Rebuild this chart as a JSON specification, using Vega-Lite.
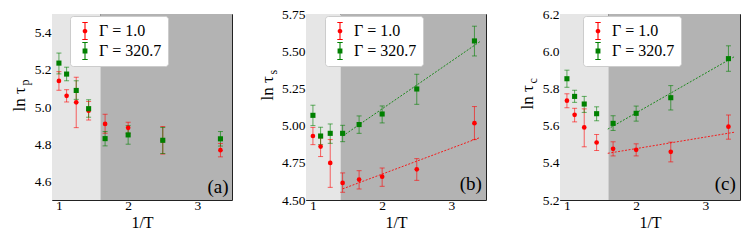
{
  "$schema": "https://vega.github.io/schema/vega-lite/v6.json",
  "padding": {"left": 9, "top": 6, "right": 0, "bottom": 0},
  "spacing": 74,
  "bounds": "flush",
  "resolve": {"legend": {"color": "independent", "shape": "independent"}},
  "config": {
    "font": "Liberation Serif",
    "view": {"stroke": "#222222", "strokeWidth": 1},
    "axis": {"labelFont": "Liberation Serif", "labelFontSize": 13.5, "labelColor": "#000000", "titleFont": "Liberation Serif", "titleFontSize": 17, "titleFontWeight": "normal", "titleColor": "#000000", "domain": false, "grid": false, "tickColor": "#222222", "tickWidth": 1, "labelFlush": false, "labelOverlap": false},
    "legend": {"labelFont": "Liberation Serif", "labelFontSize": 16, "labelColor": "#000000", "fillColor": "#ffffff", "strokeColor": "#cccccc", "cornerRadius": 3, "padding": 6, "rowPadding": 2, "symbolSize": 324, "labelOffset": 5}
  },
  "datasets": {
    "bg": [
      {"p": "a", "x0": 0.9, "x1": 1.6, "shade": "light"},
      {"p": "a", "x0": 1.6, "x1": 3.5, "shade": "dark"},
      {"p": "b", "x0": 0.9, "x1": 1.4, "shade": "light"},
      {"p": "b", "x0": 1.4, "x1": 3.5, "shade": "dark"},
      {"p": "c", "x0": 0.9, "x1": 1.6, "shade": "light"},
      {"p": "c", "x0": 1.6, "x1": 3.5, "shade": "dark"}
    ],
    "pts": [
      {"p": "a", "s": "Γ = 1.0", "x": 1.0, "y": 5.14, "lo": 5.09, "hi": 5.19},
      {"p": "a", "s": "Γ = 1.0", "x": 1.111, "y": 5.06, "lo": 5.027, "hi": 5.093},
      {"p": "a", "s": "Γ = 1.0", "x": 1.25, "y": 5.025, "lo": 4.889, "hi": 5.16},
      {"p": "a", "s": "Γ = 1.0", "x": 1.429, "y": 4.98, "lo": 4.93, "hi": 5.03},
      {"p": "a", "s": "Γ = 1.0", "x": 1.667, "y": 4.909, "lo": 4.859, "hi": 4.961},
      {"p": "a", "s": "Γ = 1.0", "x": 2.0, "y": 4.888, "lo": 4.858, "hi": 4.918},
      {"p": "a", "s": "Γ = 1.0", "x": 2.5, "y": 4.82, "lo": 4.747, "hi": 4.895},
      {"p": "a", "s": "Γ = 1.0", "x": 3.333, "y": 4.768, "lo": 4.732, "hi": 4.804},
      {"p": "a", "s": "Γ = 320.7", "x": 1.0, "y": 5.236, "lo": 5.178, "hi": 5.29},
      {"p": "a", "s": "Γ = 320.7", "x": 1.111, "y": 5.177, "lo": 5.141, "hi": 5.214},
      {"p": "a", "s": "Γ = 320.7", "x": 1.25, "y": 5.089, "lo": 5.041, "hi": 5.141},
      {"p": "a", "s": "Γ = 320.7", "x": 1.429, "y": 4.991, "lo": 4.945, "hi": 5.039},
      {"p": "a", "s": "Γ = 320.7", "x": 1.667, "y": 4.83, "lo": 4.791, "hi": 4.868},
      {"p": "a", "s": "Γ = 320.7", "x": 2.0, "y": 4.85, "lo": 4.8, "hi": 4.9},
      {"p": "a", "s": "Γ = 320.7", "x": 2.5, "y": 4.821, "lo": 4.75, "hi": 4.89},
      {"p": "a", "s": "Γ = 320.7", "x": 3.333, "y": 4.829, "lo": 4.79, "hi": 4.868},
      {"p": "b", "s": "Γ = 1.0", "x": 1.0, "y": 4.93, "lo": 4.872, "hi": 4.988},
      {"p": "b", "s": "Γ = 1.0", "x": 1.111, "y": 4.859, "lo": 4.792, "hi": 4.917},
      {"p": "b", "s": "Γ = 1.0", "x": 1.25, "y": 4.749, "lo": 4.585, "hi": 4.906},
      {"p": "b", "s": "Γ = 1.0", "x": 1.429, "y": 4.615, "lo": 4.552, "hi": 4.682},
      {"p": "b", "s": "Γ = 1.0", "x": 1.667, "y": 4.637, "lo": 4.574, "hi": 4.697},
      {"p": "b", "s": "Γ = 1.0", "x": 2.0, "y": 4.657, "lo": 4.592, "hi": 4.715},
      {"p": "b", "s": "Γ = 1.0", "x": 2.5, "y": 4.706, "lo": 4.632, "hi": 4.778},
      {"p": "b", "s": "Γ = 1.0", "x": 3.333, "y": 5.016, "lo": 4.906, "hi": 5.128},
      {"p": "b", "s": "Γ = 320.7", "x": 1.0, "y": 5.069, "lo": 5.0, "hi": 5.137},
      {"p": "b", "s": "Γ = 320.7", "x": 1.111, "y": 4.93, "lo": 4.872, "hi": 4.989},
      {"p": "b", "s": "Γ = 320.7", "x": 1.25, "y": 4.948, "lo": 4.881, "hi": 5.011},
      {"p": "b", "s": "Γ = 320.7", "x": 1.429, "y": 4.948, "lo": 4.892, "hi": 5.002},
      {"p": "b", "s": "Γ = 320.7", "x": 1.667, "y": 5.007, "lo": 4.948, "hi": 5.065},
      {"p": "b", "s": "Γ = 320.7", "x": 2.0, "y": 5.078, "lo": 5.018, "hi": 5.132},
      {"p": "b", "s": "Γ = 320.7", "x": 2.5, "y": 5.246, "lo": 5.143, "hi": 5.345},
      {"p": "b", "s": "Γ = 320.7", "x": 3.333, "y": 5.569, "lo": 5.468, "hi": 5.668},
      {"p": "c", "s": "Γ = 1.0", "x": 1.0, "y": 5.734, "lo": 5.696, "hi": 5.771},
      {"p": "c", "s": "Γ = 1.0", "x": 1.111, "y": 5.658, "lo": 5.62, "hi": 5.693},
      {"p": "c", "s": "Γ = 1.0", "x": 1.25, "y": 5.59, "lo": 5.486, "hi": 5.69},
      {"p": "c", "s": "Γ = 1.0", "x": 1.429, "y": 5.509, "lo": 5.466, "hi": 5.552},
      {"p": "c", "s": "Γ = 1.0", "x": 1.667, "y": 5.475, "lo": 5.437, "hi": 5.513},
      {"p": "c", "s": "Γ = 1.0", "x": 2.0, "y": 5.47, "lo": 5.437, "hi": 5.502},
      {"p": "c", "s": "Γ = 1.0", "x": 2.5, "y": 5.459, "lo": 5.405, "hi": 5.511},
      {"p": "c", "s": "Γ = 1.0", "x": 3.333, "y": 5.594, "lo": 5.527, "hi": 5.657},
      {"p": "c", "s": "Γ = 320.7", "x": 1.0, "y": 5.852, "lo": 5.806, "hi": 5.898},
      {"p": "c", "s": "Γ = 320.7", "x": 1.111, "y": 5.757, "lo": 5.725, "hi": 5.79},
      {"p": "c", "s": "Γ = 320.7", "x": 1.25, "y": 5.716, "lo": 5.671, "hi": 5.757},
      {"p": "c", "s": "Γ = 320.7", "x": 1.429, "y": 5.664, "lo": 5.626, "hi": 5.701},
      {"p": "c", "s": "Γ = 320.7", "x": 1.667, "y": 5.612, "lo": 5.574, "hi": 5.653},
      {"p": "c", "s": "Γ = 320.7", "x": 2.0, "y": 5.666, "lo": 5.624, "hi": 5.705},
      {"p": "c", "s": "Γ = 320.7", "x": 2.5, "y": 5.75, "lo": 5.684, "hi": 5.815},
      {"p": "c", "s": "Γ = 320.7", "x": 3.333, "y": 5.96, "lo": 5.892, "hi": 6.029}
    ],
    "fit": [
      {"p": "b", "s": "Γ = 1.0", "x": 1.43, "y": 4.575},
      {"p": "b", "s": "Γ = 1.0", "x": 3.42, "y": 4.921},
      {"p": "b", "s": "Γ = 320.7", "x": 1.43, "y": 4.93},
      {"p": "b", "s": "Γ = 320.7", "x": 3.42, "y": 5.567},
      {"p": "c", "s": "Γ = 1.0", "x": 1.59, "y": 5.451},
      {"p": "c", "s": "Γ = 1.0", "x": 3.43, "y": 5.565},
      {"p": "c", "s": "Γ = 320.7", "x": 1.59, "y": 5.581},
      {"p": "c", "s": "Γ = 320.7", "x": 3.43, "y": 5.973}
    ],
    "lab": [
      {"p": "a", "t": "(a)", "x": 3.45, "y": 4.535},
      {"p": "b", "t": "(b)", "x": 3.44, "y": 4.565},
      {"p": "c", "t": "(c)", "x": 3.44, "y": 5.252}
    ]
  },
  "hconcat": [
    {
      "width": 180, "height": 186,
      "resolve": {"axis": {"x": "independent", "y": "independent"}},
      "layer": [
        {"data": {"name": "bg"}, "transform": [{"filter": "datum.p == 'a' && datum.shade == 'light'"}], "mark": {"type": "rect", "color": "#e6e6e6"},
         "encoding": {
           "x": {"field": "x0", "type": "quantitative", "scale": {"domain": [0.9, 3.5]}, "axis": {"values": [1, 2, 3], "format": "d", "tickSize": -4, "labelPadding": 2, "labelOverlap": false, "title": "1/T", "titleFontSize": 16, "titlePadding": 3}},
           "x2": {"field": "x1"}
         }},
        {"data": {"name": "bg"}, "transform": [{"filter": "datum.p == 'a' && datum.shade == 'dark'"}], "mark": {"type": "rect", "color": "#b3b3b3"},
         "encoding": {
           "x": {"field": "x0", "type": "quantitative", "scale": {"domain": [0.9, 3.5]}, "axis": {"values": [1.2, 1.4, 1.6, 1.8, 2.2, 2.4, 2.6, 2.8, 3.2, 3.4], "tickSize": -2, "labels": false, "title": null}},
           "x2": {"field": "x1"}
         }},
        {"data": {"name": "pts"}, "transform": [{"filter": "datum.p == 'a'"}], "mark": {"type": "rule", "strokeWidth": 1, "opacity": 0.6},
         "encoding": {
           "x": {"field": "x", "type": "quantitative", "scale": {"domain": [0.9, 3.5]}, "axis": null},
           "y": {"field": "lo", "type": "quantitative", "scale": {"domain": [4.5, 5.5]}, "axis": {"values": [4.6, 4.8, 5.0, 5.2, 5.4], "format": ".1f", "tickSize": -4, "labelPadding": 5, "labelOverlap": false, "title": "ln τ", "titleAngle": -90, "titleAlign": "left", "titleBaseline": "alphabetic", "titleX": -28, "titleY": 97}},
           "y2": {"field": "hi"},
           "stroke": {"field": "s", "type": "nominal", "scale": {"domain": ["Γ = 1.0", "Γ = 320.7"], "range": ["#ff0000", "#008000"]}, "legend": null}
         }},
        {"data": {"name": "pts"}, "transform": [{"filter": "datum.p == 'a'"}], "mark": {"type": "tick", "orient": "horizontal", "size": 5, "thickness": 1, "opacity": 0.6},
         "encoding": {
           "x": {"field": "x", "type": "quantitative", "scale": {"domain": [0.9, 3.5]}, "axis": null},
           "y": {"field": "lo", "type": "quantitative", "scale": {"domain": [4.5, 5.5]}, "axis": {"values": [4.55, 4.65, 4.7, 4.75, 4.85, 4.9, 4.95, 5.05, 5.1, 5.15, 5.25, 5.3, 5.35, 5.45], "tickSize": -2, "labels": false, "title": null}},
           "fill": {"field": "s", "type": "nominal", "scale": {"domain": ["Γ = 1.0", "Γ = 320.7"], "range": ["#ff0000", "#008000"]}, "legend": null}
         }},
        {"data": {"name": "pts"}, "transform": [{"filter": "datum.p == 'a'"}], "mark": {"type": "tick", "orient": "horizontal", "size": 5, "thickness": 1, "opacity": 0.6},
         "encoding": {
           "x": {"field": "x", "type": "quantitative", "scale": {"domain": [0.9, 3.5]}, "axis": null},
           "y": {"field": "hi", "type": "quantitative", "scale": {"domain": [4.5, 5.5]}, "axis": null},
           "fill": {"field": "s", "type": "nominal", "legend": null}
         }},
        {"data": {"name": "pts"}, "transform": [{"filter": "datum.p == 'a' && datum.s == 'Γ = 1.0'"}], "mark": {"type": "point", "shape": "circle", "filled": true, "size": 22, "opacity": 1},
         "encoding": {
           "x": {"field": "x", "type": "quantitative", "scale": {"domain": [0.9, 3.5]}, "axis": null},
           "y": {"field": "y", "type": "quantitative", "scale": {"domain": [4.5, 5.5]}, "axis": null},
           "fill": {"field": "s", "type": "nominal", "legend": null}
         }},
        {"data": {"name": "pts"}, "transform": [{"filter": "datum.p == 'a' && datum.s == 'Γ = 320.7'"}], "mark": {"type": "point", "shape": "square", "filled": true, "size": 26, "opacity": 1},
         "encoding": {
           "x": {"field": "x", "type": "quantitative", "scale": {"domain": [0.9, 3.5]}, "axis": null},
           "y": {"field": "y", "type": "quantitative", "scale": {"domain": [4.5, 5.5]}, "axis": {"orient": "left", "title": "p", "titleFontSize": 12, "domain": false, "ticks": false, "labels": false, "grid": false, "titleAngle": -90, "titleAlign": "left", "titleBaseline": "alphabetic", "titleX": -24, "titleY": 71}},
           "fill": {"field": "s", "type": "nominal", "legend": null}
         }},
        {"data": {"name": "pts"}, "transform": [{"filter": "datum.p == 'a'"}], "mark": {"type": "point", "filled": true, "size": 324, "opacity": 0},
         "encoding": {
           "x": {"field": "x", "type": "quantitative", "scale": {"domain": [0.9, 3.5]}, "axis": null},
           "y": {"field": "y", "type": "quantitative", "scale": {"domain": [4.5, 5.5]}, "axis": null},
           "color": {"field": "s", "type": "nominal", "scale": {"domain": ["Γ = 1.0", "Γ = 320.7"], "range": ["#ff0000", "#008000"]}, "legend": {"orient": "none", "legendX": 18, "legendY": 2, "title": null, "labelFont": "Liberation Serif", "labelFontSize": 16, "encode": {"symbols": {"update": {"opacity": {"value": 1}, "strokeWidth": {"value": 0}}}}}},
           "shape": {"field": "s", "type": "nominal", "scale": {"domain": ["Γ = 1.0", "Γ = 320.7"], "range": ["M-0.26,0A0.26,0.26,0,1,1,0.26,0A0.26,0.26,0,1,1,-0.26,0ZM-0.06,-0.95L0.06,-0.95L0.06,0.95L-0.06,0.95ZM-0.3,-1L0.3,-1L0.3,-0.89L-0.3,-0.89ZM-0.3,0.89L0.3,0.89L0.3,1L-0.3,1Z", "M-0.27,-0.27L0.27,-0.27L0.27,0.27L-0.27,0.27ZM-0.06,-0.95L0.06,-0.95L0.06,0.95L-0.06,0.95ZM-0.3,-1L0.3,-1L0.3,-0.89L-0.3,-0.89ZM-0.3,0.89L0.3,0.89L0.3,1L-0.3,1Z"]}, "legend": {"orient": "none", "legendX": 18, "legendY": 2, "title": null, "labelFont": "Liberation Serif", "labelFontSize": 16, "encode": {"symbols": {"update": {"opacity": {"value": 1}, "strokeWidth": {"value": 0}}}}}}
         }},
        {"data": {"name": "lab"}, "transform": [{"filter": "datum.p == 'a'"}], "mark": {"type": "text", "align": "right", "baseline": "alphabetic", "fontSize": 19, "font": "Liberation Serif", "color": "#000000"},
         "encoding": {
           "x": {"field": "x", "type": "quantitative", "scale": {"domain": [0.9, 3.5]}, "axis": null},
           "y": {"field": "y", "type": "quantitative", "scale": {"domain": [4.5, 5.5]}, "axis": null},
           "text": {"field": "t"}
         }}
      ]
    },
    {
      "width": 180, "height": 186,
      "resolve": {"axis": {"x": "independent", "y": "independent"}},
      "layer": [
        {"data": {"name": "bg"}, "transform": [{"filter": "datum.p == 'b' && datum.shade == 'light'"}], "mark": {"type": "rect", "color": "#e6e6e6"},
         "encoding": {
           "x": {"field": "x0", "type": "quantitative", "scale": {"domain": [0.9, 3.5]}, "axis": {"values": [1, 2, 3], "format": "d", "tickSize": -4, "labelPadding": 2, "labelOverlap": false, "title": "1/T", "titleFontSize": 16, "titlePadding": 3}},
           "x2": {"field": "x1"}
         }},
        {"data": {"name": "bg"}, "transform": [{"filter": "datum.p == 'b' && datum.shade == 'dark'"}], "mark": {"type": "rect", "color": "#b3b3b3"},
         "encoding": {
           "x": {"field": "x0", "type": "quantitative", "scale": {"domain": [0.9, 3.5]}, "axis": {"values": [1.2, 1.4, 1.6, 1.8, 2.2, 2.4, 2.6, 2.8, 3.2, 3.4], "tickSize": -2, "labels": false, "title": null}},
           "x2": {"field": "x1"}
         }},
        {"data": {"name": "pts"}, "transform": [{"filter": "datum.p == 'b'"}], "mark": {"type": "rule", "strokeWidth": 1, "opacity": 0.6},
         "encoding": {
           "x": {"field": "x", "type": "quantitative", "scale": {"domain": [0.9, 3.5]}, "axis": null},
           "y": {"field": "lo", "type": "quantitative", "scale": {"domain": [4.5, 5.75]}, "axis": {"values": [4.5, 4.75, 5.0, 5.25, 5.5, 5.75], "format": ".2f", "tickSize": -4, "labelPadding": 5, "labelOverlap": false, "title": "ln τ", "titleAngle": -90, "titleAlign": "left", "titleBaseline": "alphabetic", "titleX": -34, "titleY": 86}},
           "y2": {"field": "hi"},
           "stroke": {"field": "s", "type": "nominal", "legend": null}
         }},
        {"data": {"name": "pts"}, "transform": [{"filter": "datum.p == 'b'"}], "mark": {"type": "tick", "orient": "horizontal", "size": 5, "thickness": 1, "opacity": 0.6},
         "encoding": {
           "x": {"field": "x", "type": "quantitative", "scale": {"domain": [0.9, 3.5]}, "axis": null},
           "y": {"field": "lo", "type": "quantitative", "scale": {"domain": [4.5, 5.75]}, "axis": {"values": [4.55, 4.6, 4.65, 4.7, 4.8, 4.85, 4.9, 4.95, 5.05, 5.1, 5.15, 5.2, 5.3, 5.35, 5.4, 5.45, 5.55, 5.6, 5.65, 5.7], "tickSize": -2, "labels": false, "title": null}},
           "fill": {"field": "s", "type": "nominal", "legend": null}
         }},
        {"data": {"name": "pts"}, "transform": [{"filter": "datum.p == 'b'"}], "mark": {"type": "tick", "orient": "horizontal", "size": 5, "thickness": 1, "opacity": 0.6},
         "encoding": {
           "x": {"field": "x", "type": "quantitative", "scale": {"domain": [0.9, 3.5]}, "axis": null},
           "y": {"field": "hi", "type": "quantitative", "scale": {"domain": [4.5, 5.75]}, "axis": null},
           "fill": {"field": "s", "type": "nominal", "legend": null}
         }},
        {"data": {"name": "fit"}, "transform": [{"filter": "datum.p == 'b'"}], "mark": {"type": "line", "strokeWidth": 1, "strokeDash": [2, 1.5], "opacity": 0.85},
         "encoding": {
           "x": {"field": "x", "type": "quantitative", "scale": {"domain": [0.9, 3.5]}, "axis": null},
           "y": {"field": "y", "type": "quantitative", "scale": {"domain": [4.5, 5.75]}, "axis": null},
           "stroke": {"field": "s", "type": "nominal", "legend": null}
         }},
        {"data": {"name": "pts"}, "transform": [{"filter": "datum.p == 'b' && datum.s == 'Γ = 1.0'"}], "mark": {"type": "point", "shape": "circle", "filled": true, "size": 22, "opacity": 1},
         "encoding": {
           "x": {"field": "x", "type": "quantitative", "scale": {"domain": [0.9, 3.5]}, "axis": null},
           "y": {"field": "y", "type": "quantitative", "scale": {"domain": [4.5, 5.75]}, "axis": null},
           "fill": {"field": "s", "type": "nominal", "legend": null}
         }},
        {"data": {"name": "pts"}, "transform": [{"filter": "datum.p == 'b' && datum.s == 'Γ = 320.7'"}], "mark": {"type": "point", "shape": "square", "filled": true, "size": 26, "opacity": 1},
         "encoding": {
           "x": {"field": "x", "type": "quantitative", "scale": {"domain": [0.9, 3.5]}, "axis": null},
           "y": {"field": "y", "type": "quantitative", "scale": {"domain": [4.5, 5.75]}, "axis": {"orient": "left", "title": "s", "titleFontSize": 12, "domain": false, "ticks": false, "labels": false, "grid": false, "titleAngle": -90, "titleAlign": "left", "titleBaseline": "alphabetic", "titleX": -30, "titleY": 60}},
           "fill": {"field": "s", "type": "nominal", "legend": null}
         }},
        {"data": {"name": "pts"}, "transform": [{"filter": "datum.p == 'b'"}], "mark": {"type": "point", "filled": true, "size": 324, "opacity": 0},
         "encoding": {
           "x": {"field": "x", "type": "quantitative", "scale": {"domain": [0.9, 3.5]}, "axis": null},
           "y": {"field": "y", "type": "quantitative", "scale": {"domain": [4.5, 5.75]}, "axis": null},
           "color": {"field": "s", "type": "nominal", "legend": {"orient": "none", "legendX": 19, "legendY": 2, "title": null, "labelFont": "Liberation Serif", "labelFontSize": 16, "encode": {"symbols": {"update": {"opacity": {"value": 1}, "strokeWidth": {"value": 0}}}}}},
           "shape": {"field": "s", "type": "nominal", "legend": {"orient": "none", "legendX": 19, "legendY": 2, "title": null, "labelFont": "Liberation Serif", "labelFontSize": 16, "encode": {"symbols": {"update": {"opacity": {"value": 1}, "strokeWidth": {"value": 0}}}}}}
         }},
        {"data": {"name": "lab"}, "transform": [{"filter": "datum.p == 'b'"}], "mark": {"type": "text", "align": "right", "baseline": "alphabetic", "fontSize": 19, "font": "Liberation Serif", "color": "#000000"},
         "encoding": {
           "x": {"field": "x", "type": "quantitative", "scale": {"domain": [0.9, 3.5]}, "axis": null},
           "y": {"field": "y", "type": "quantitative", "scale": {"domain": [4.5, 5.75]}, "axis": null},
           "text": {"field": "t"}
         }}
      ]
    },
    {
      "width": 180, "height": 186,
      "resolve": {"axis": {"x": "independent", "y": "independent"}},
      "layer": [
        {"data": {"name": "bg"}, "transform": [{"filter": "datum.p == 'c' && datum.shade == 'light'"}], "mark": {"type": "rect", "color": "#e6e6e6"},
         "encoding": {
           "x": {"field": "x0", "type": "quantitative", "scale": {"domain": [0.9, 3.5]}, "axis": {"values": [1, 2, 3], "format": "d", "tickSize": -4, "labelPadding": 2, "labelOverlap": false, "title": "1/T", "titleFontSize": 16, "titlePadding": 3}},
           "x2": {"field": "x1"}
         }},
        {"data": {"name": "bg"}, "transform": [{"filter": "datum.p == 'c' && datum.shade == 'dark'"}], "mark": {"type": "rect", "color": "#b3b3b3"},
         "encoding": {
           "x": {"field": "x0", "type": "quantitative", "scale": {"domain": [0.9, 3.5]}, "axis": {"values": [1.2, 1.4, 1.6, 1.8, 2.2, 2.4, 2.6, 2.8, 3.2, 3.4], "tickSize": -2, "labels": false, "title": null}},
           "x2": {"field": "x1"}
         }},
        {"data": {"name": "pts"}, "transform": [{"filter": "datum.p == 'c'"}], "mark": {"type": "rule", "strokeWidth": 1, "opacity": 0.6},
         "encoding": {
           "x": {"field": "x", "type": "quantitative", "scale": {"domain": [0.9, 3.5]}, "axis": null},
           "y": {"field": "lo", "type": "quantitative", "scale": {"domain": [5.2, 6.2]}, "axis": {"values": [5.2, 5.4, 5.6, 5.8, 6.0, 6.2], "format": ".1f", "tickSize": -4, "labelPadding": 5, "labelOverlap": false, "title": "ln τ", "titleAngle": -90, "titleAlign": "left", "titleBaseline": "alphabetic", "titleX": -28, "titleY": 95}},
           "y2": {"field": "hi"},
           "stroke": {"field": "s", "type": "nominal", "legend": null}
         }},
        {"data": {"name": "pts"}, "transform": [{"filter": "datum.p == 'c'"}], "mark": {"type": "tick", "orient": "horizontal", "size": 5, "thickness": 1, "opacity": 0.6},
         "encoding": {
           "x": {"field": "x", "type": "quantitative", "scale": {"domain": [0.9, 3.5]}, "axis": null},
           "y": {"field": "lo", "type": "quantitative", "scale": {"domain": [5.2, 6.2]}, "axis": {"values": [5.25, 5.3, 5.35, 5.45, 5.5, 5.55, 5.65, 5.7, 5.75, 5.85, 5.9, 5.95, 6.05, 6.1, 6.15], "tickSize": -2, "labels": false, "title": null}},
           "fill": {"field": "s", "type": "nominal", "legend": null}
         }},
        {"data": {"name": "pts"}, "transform": [{"filter": "datum.p == 'c'"}], "mark": {"type": "tick", "orient": "horizontal", "size": 5, "thickness": 1, "opacity": 0.6},
         "encoding": {
           "x": {"field": "x", "type": "quantitative", "scale": {"domain": [0.9, 3.5]}, "axis": null},
           "y": {"field": "hi", "type": "quantitative", "scale": {"domain": [5.2, 6.2]}, "axis": null},
           "fill": {"field": "s", "type": "nominal", "legend": null}
         }},
        {"data": {"name": "fit"}, "transform": [{"filter": "datum.p == 'c'"}], "mark": {"type": "line", "strokeWidth": 1, "strokeDash": [2, 1.5], "opacity": 0.85},
         "encoding": {
           "x": {"field": "x", "type": "quantitative", "scale": {"domain": [0.9, 3.5]}, "axis": null},
           "y": {"field": "y", "type": "quantitative", "scale": {"domain": [5.2, 6.2]}, "axis": null},
           "stroke": {"field": "s", "type": "nominal", "legend": null}
         }},
        {"data": {"name": "pts"}, "transform": [{"filter": "datum.p == 'c' && datum.s == 'Γ = 1.0'"}], "mark": {"type": "point", "shape": "circle", "filled": true, "size": 22, "opacity": 1},
         "encoding": {
           "x": {"field": "x", "type": "quantitative", "scale": {"domain": [0.9, 3.5]}, "axis": null},
           "y": {"field": "y", "type": "quantitative", "scale": {"domain": [5.2, 6.2]}, "axis": null},
           "fill": {"field": "s", "type": "nominal", "legend": null}
         }},
        {"data": {"name": "pts"}, "transform": [{"filter": "datum.p == 'c' && datum.s == 'Γ = 320.7'"}], "mark": {"type": "point", "shape": "square", "filled": true, "size": 26, "opacity": 1},
         "encoding": {
           "x": {"field": "x", "type": "quantitative", "scale": {"domain": [0.9, 3.5]}, "axis": null},
           "y": {"field": "y", "type": "quantitative", "scale": {"domain": [5.2, 6.2]}, "axis": {"orient": "left", "title": "c", "titleFontSize": 12, "domain": false, "ticks": false, "labels": false, "grid": false, "titleAngle": -90, "titleAlign": "left", "titleBaseline": "alphabetic", "titleX": -24, "titleY": 69}},
           "fill": {"field": "s", "type": "nominal", "legend": null}
         }},
        {"data": {"name": "pts"}, "transform": [{"filter": "datum.p == 'c'"}], "mark": {"type": "point", "filled": true, "size": 324, "opacity": 0},
         "encoding": {
           "x": {"field": "x", "type": "quantitative", "scale": {"domain": [0.9, 3.5]}, "axis": null},
           "y": {"field": "y", "type": "quantitative", "scale": {"domain": [5.2, 6.2]}, "axis": null},
           "color": {"field": "s", "type": "nominal", "legend": {"orient": "none", "legendX": 23, "legendY": 2, "title": null, "labelFont": "Liberation Serif", "labelFontSize": 16, "encode": {"symbols": {"update": {"opacity": {"value": 1}, "strokeWidth": {"value": 0}}}}}},
           "shape": {"field": "s", "type": "nominal", "legend": {"orient": "none", "legendX": 23, "legendY": 2, "title": null, "labelFont": "Liberation Serif", "labelFontSize": 16, "encode": {"symbols": {"update": {"opacity": {"value": 1}, "strokeWidth": {"value": 0}}}}}}
         }},
        {"data": {"name": "lab"}, "transform": [{"filter": "datum.p == 'c'"}], "mark": {"type": "text", "align": "right", "baseline": "alphabetic", "fontSize": 19, "font": "Liberation Serif", "color": "#000000"},
         "encoding": {
           "x": {"field": "x", "type": "quantitative", "scale": {"domain": [0.9, 3.5]}, "axis": null},
           "y": {"field": "y", "type": "quantitative", "scale": {"domain": [5.2, 6.2]}, "axis": null},
           "text": {"field": "t"}
         }}
      ]
    }
  ]
}
